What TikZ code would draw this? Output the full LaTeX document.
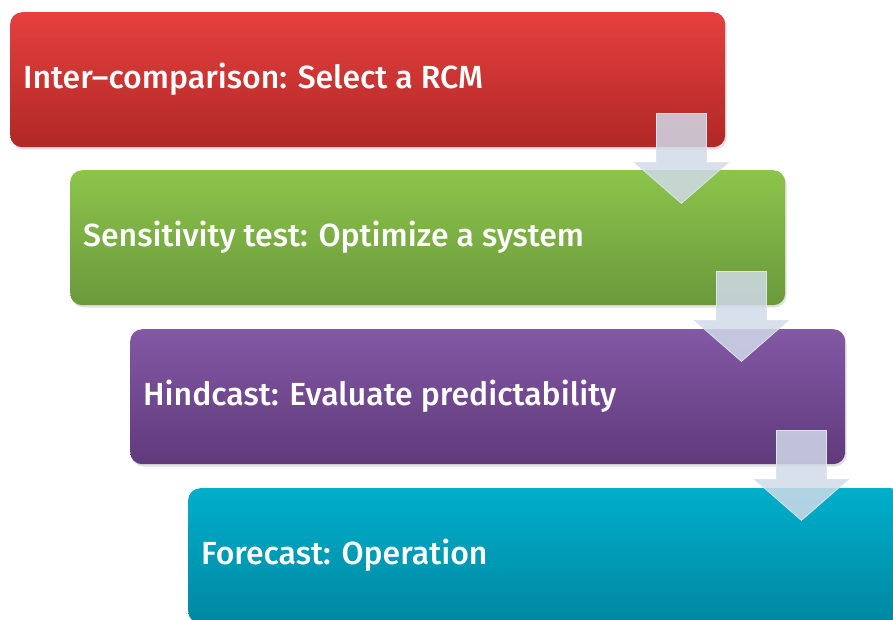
\documentclass[tikz,border=0pt]{standalone}
\usepackage{fontspec}
\setmainfont{Fira Sans Medium}
\usetikzlibrary{calc}

\definecolor{redtop}{HTML}{E5403E}
\definecolor{redbot}{HTML}{B02826}
\definecolor{greentop}{HTML}{8CC44B}
\definecolor{greenbot}{HTML}{6A993B}
\definecolor{purptop}{HTML}{8358A5}
\definecolor{purpbot}{HTML}{5F3A7B}
\definecolor{cyantop}{HTML}{00AFCB}
\definecolor{cyanbot}{HTML}{0087A1}
\definecolor{arrowfill}{HTML}{D0DAE8}
\definecolor{arrowedge}{HTML}{DCE4EF}

\tikzset{
  stagebox/.style={rounded corners=12pt, minimum width=715pt, minimum height=135pt,
    anchor=north west, inner sep=0pt},
  stagetext/.style={anchor=base west, text=white, inner sep=0pt,
    font=\fontsize{32}{37}\selectfont},
  flowarrow/.style={fill=arrowfill, fill opacity=0.85, draw=arrowedge, line width=0.8pt,
    line join=miter},
  boxshadow/.style={fill=black, fill opacity=0.12, rounded corners=12pt}
}

\begin{document}
\begin{tikzpicture}[x=1pt,y=1pt]
  \useasboundingbox (0,0) rectangle (893,-619);
  \clip (0,0) rectangle (893,-619);

  % stage boxes: left, top, colours, label
  \foreach \n/\x/\y/\ct/\cb/\lbl in {
      one/10/12/redtop/redbot/{Inter–comparison: Select a RCM},
      two/70/170/greentop/greenbot/{Sensitivity test: Optimize a system},
      three/130/329/purptop/purpbot/{Hindcast: Evaluate predictability},
      four/188/488/cyantop/cyanbot/{Forecast: Operation}} {
    \fill[boxshadow] (\x+1.5,-\y-2.5) rectangle ++(715,-135);
    \node[stagebox, top color=\ct, bottom color=\cb] (box\n) at (\x,-\y) {};
    \node[stagetext] (label\n) at ($(box\n.north west)+(13,-76)$) {\lbl};
  }

  % down arrows linking consecutive stages
  \foreach \a in {boxone, boxtwo, boxthree} {
    \draw[flowarrow]
      ($(\a.south east)+(-69,34)$) -- ($(\a.south east)+(-19,34)$)
      -- ($(\a.south east)+(-19,-15)$) -- ($(\a.south east)+(3,-15)$)
      -- ($(\a.south east)+(-44,-56)$) -- ($(\a.south east)+(-91,-15)$)
      -- ($(\a.south east)+(-69,-15)$) -- cycle;
  }
\end{tikzpicture}
\end{document}
